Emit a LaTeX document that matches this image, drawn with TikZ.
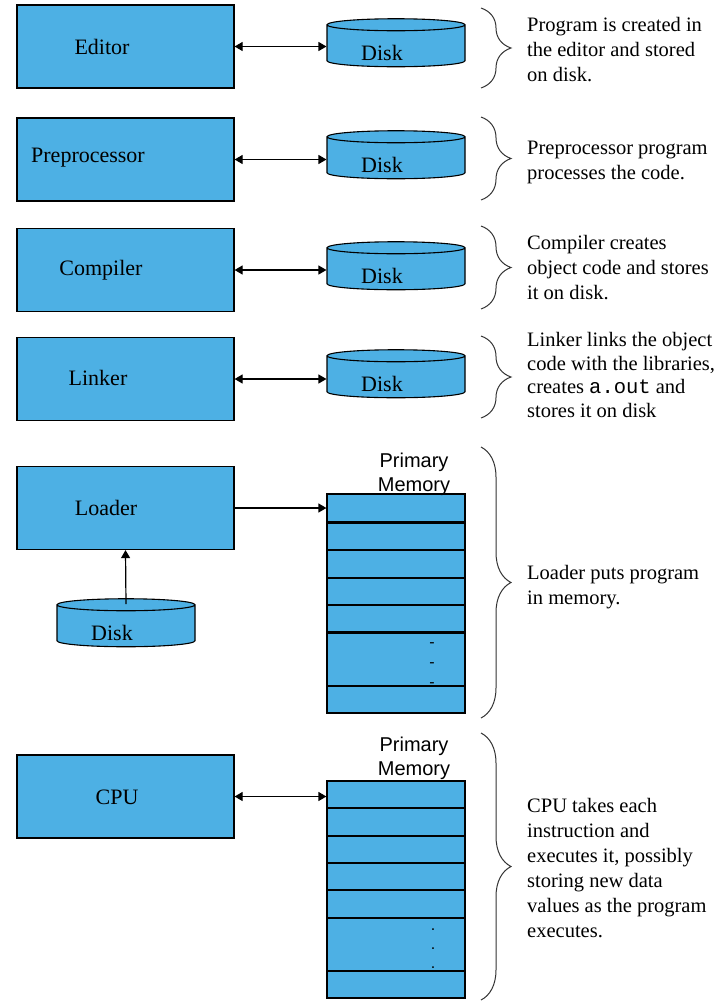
\documentclass[tikz,border=0pt]{standalone}
\usepackage{fontspec}
\setmainfont{Liberation Serif}
\setsansfont{Liberation Sans}
\setmonofont{Liberation Mono}
\usetikzlibrary{shapes.geometric, arrows.meta, decorations.pathreplacing, calc}

\definecolor{boxblue}{RGB}{77,176,228}

\begin{document}
\begin{tikzpicture}[
    x=1pt, y=-1pt,
    >={Triangle[length=8pt,width=9pt]},
    stage/.style={rectangle, draw, fill=boxblue, line width=1.2pt, minimum width=217pt, minimum height=83pt},
    lbl/.style={inner sep=0pt, font=\fontsize{22}{26}\selectfont},
    disk/.style={cylinder, shape border rotate=90, aspect=0.2, inner xsep=30pt, inner ysep=2pt,
        draw, fill=boxblue, line width=1.1pt, minimum width=138pt, minimum height=48pt},
    cell/.style={rectangle, draw, fill=boxblue, line width=1.2pt, minimum width=138pt, inner sep=0pt},
    note/.style={anchor=west, align=left, inner sep=0pt, font=\fontsize{20.5}{25}\selectfont},
    memlbl/.style={align=center, inner sep=0pt, font=\sffamily\fontsize{20}{24}\selectfont},
    gapmark/.style={inner sep=0pt, font=\sffamily\fontsize{16}{16}\selectfont},
    brc/.style={decorate, decoration={brace, amplitude=30pt}, line width=1pt, black!80},
    link/.style={<->, line width=1.2pt},
    feed/.style={->, line width=1.2pt}
]
\useasboundingbox (0,0) rectangle (717,1002);

% stages
\node (Editor) at (125.5, 46.5) [stage] {};
\node (Preproc) at (125.5, 159.5) [stage] {};
\node (Compiler) at (125.5, 270) [stage] {};
\node (Linker) at (125.5, 379) [stage] {};
\node (Loader) at (125.5, 508) [stage] {};
\node (CPU) at (125.5, 796.5) [stage] {};

\node (EditorL) at (102, 47) [lbl] {Editor};
\node (PreprocL) at (88, 158) [lbl] {Preprocessor};
\node (CompilerL) at (101, 270) [lbl] {Compiler};
\node (LinkerL) at (98, 378) [lbl] {Linker};
\node (LoaderL) at (106, 508) [lbl] {Loader};
\node (CPUL) at (117, 797) [lbl] {CPU};

% disks
\node (EditorDisk) at (396, 48.5) [disk] {};
\node (PreprocDisk) at (396, 160.5) [disk] {};
\node (CompilerDisk) at (396, 271.5) [disk] {};
\node (LinkerDisk) at (396, 379.5) [disk] {};
\node (LoadDisk) at (126, 628.5) [disk] {};
\foreach \d in {EditorDisk, PreprocDisk, CompilerDisk, LinkerDisk, LoadDisk}
    \node (\d L) at ([xshift=-14pt, yshift=-4.5pt]\d.center) [lbl] {Disk};

\draw[link] (Editor.east) -- (Editor.east -| EditorDisk.west);
\draw[link] (Preproc.east) -- (Preproc.east -| PreprocDisk.west);
\draw[link] (Compiler.east) -- (Compiler.east -| CompilerDisk.west);
\draw[link] (Linker.east) -- (Linker.east -| LinkerDisk.west);
\draw[feed] ([yshift=-6pt]LoadDisk.north) -- (Loader.south);

% primary memory
\foreach \t/\b [count=\i] in {494/522, 522/550, 550/578, 578/605, 605/632, 632/686, 686/713}
    \node (MemA\i) at (396, {(\t+\b)/2}) [cell, minimum height={(\b-\t)*1pt}] {};
\draw[line width=2.4pt] (MemA1.south west) -- (MemA1.south east);
\draw[line width=2.4pt] (MemA5.south west) -- (MemA5.south east);
\foreach \y [count=\i] in {645, 665, 685}
    \node (GapA\i) at (432, \y) [gapmark] {-};
\node (MemLblA) at (414, 474) [memlbl] {Primary\\Memory};

\foreach \t/\b [count=\i] in {781/808, 808/836, 836/863, 863/890, 890/918, 918/971, 971/998}
    \node (MemB\i) at (396, {(\t+\b)/2}) [cell, minimum height={(\b-\t)*1pt}] {};
\foreach \y [count=\i] in {930, 949, 968}
    \node (GapB\i) at (433, \y) [gapmark] {.};
\node (MemLblB) at (414, 758) [memlbl] {Primary\\Memory};

\draw[feed] (Loader.east) -- (MemA1.west);
\draw[link] (CPU.east) -- (CPU.east -| MemB1.west);

% braces
\coordinate (B1t) at (481, 8);   \coordinate (B1b) at (481, 88);
\coordinate (B2t) at (481, 117); \coordinate (B2b) at (481, 200);
\coordinate (B3t) at (481, 226); \coordinate (B3b) at (481, 309);
\coordinate (B4t) at (481, 336); \coordinate (B4b) at (481, 418);
\coordinate (B5t) at (481, 447); \coordinate (B5b) at (481, 718);
\coordinate (B6t) at (481, 733); \coordinate (B6b) at (481, 1000);
\foreach \k in {1,...,6}
    \draw[brc] (B\k t) -- (B\k b);

% notes
\node (N1) at (527, 50) [note] {Program is created in\\the editor and stored\\on disk.};
\node (N2) at (527, 162) [note] {Preprocessor program\\processes the code.};
\node (N3) at (527, 268) [note] {Compiler creates\\object code and stores\\it on disk.};
\node (N4) at (527, 375) [note, font=\fontsize{20.5}{23.5}\selectfont] {Linker links the object\\code with the libraries,\\creates \texttt{a.out} and\\stores it on disk};
\node (N5) at (527, 587) [note] {Loader puts program\\in memory.};
\node (N6) at (527, 868) [note] {CPU takes each\\instruction and\\executes it, possibly\\storing new data\\values as the program\\executes.};
\end{tikzpicture}
\end{document}
